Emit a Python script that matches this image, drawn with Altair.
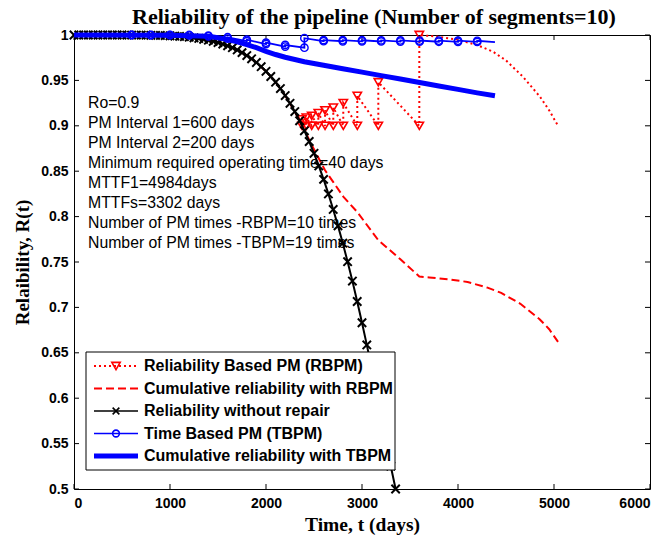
import altair as alt
import pandas as pd

# ---------------- data ----------------
# Reliability without repair (black, x markers)
black_t = [0, 50, 100, 150, 200, 250, 300, 350, 400, 450, 500, 550, 600, 650, 700, 750,
           800, 850, 900, 950, 1000, 1050, 1100, 1150, 1200, 1250, 1300, 1350, 1400, 1450,
           1500, 1550, 1600, 1650, 1700, 1750, 1800, 1850, 1900, 1950, 2000, 2050, 2100,
           2150, 2200, 2250, 2300, 2350, 2400, 2450, 2500, 2550, 2600, 2650, 2700, 2750,
           2800, 2850, 2900, 2950, 3000, 3050, 3100, 3150, 3200, 3250, 3300, 3350]
black_r = [1.0, 1.0, 1.0, 1.0, 1.0, 1.0, 1.0, 1.0, 1.0, 1.0, 1.0, 0.9999, 0.9999, 0.9999,
           0.9999, 0.9998, 0.9997, 0.9996, 0.9995, 0.9993, 0.9991, 0.9988, 0.9985, 0.9981,
           0.9976, 0.9969, 0.9962, 0.9953, 0.9943, 0.9931, 0.9917, 0.9900, 0.9881, 0.9860,
           0.9835, 0.9806, 0.9774, 0.9738, 0.9697, 0.9651, 0.9600, 0.9543, 0.9480, 0.9410,
           0.9333, 0.9248, 0.9157, 0.9055, 0.8945, 0.8827, 0.8697, 0.8558, 0.8410, 0.8250,
           0.8079, 0.7898, 0.7707, 0.7503, 0.7290, 0.7065, 0.6831, 0.6587, 0.6335, 0.6074,
           0.5804, 0.5531, 0.5251, 0.5000]

# Reliability Based PM (red dotted, triangles): PM times, value before / after PM
rbpm_t = [2375, 2420, 2476, 2545, 2615, 2701, 2805, 2951, 3170, 3597]
rbpm_before = [0.900, 0.900, 0.900, 0.900, 0.900, 0.900, 0.900, 0.900, 0.900, 0.900]
rbpm_after = [0.907, 0.909, 0.911, 0.914, 0.917, 0.920, 0.925, 0.933, 0.948, 1.000]
rbpm_tail_t = [3700, 3800, 3990, 4198, 4365, 4500, 4677, 4854, 4950, 5042]
rbpm_tail_r = [0.999, 0.998, 0.995, 0.989, 0.9816, 0.972, 0.954, 0.932, 0.917, 0.900]

# Cumulative reliability with RBPM (red dashed)
cum_rbpm_t = [0, 100, 200, 300, 400, 500, 600, 700, 800, 900, 1000, 1100, 1200, 1300,
              1400, 1500, 1600, 1700, 1800, 1900, 2000, 2100, 2200, 2300, 2375, 2420,
              2476, 2545, 2615, 2701, 2805, 2951, 3170, 3400, 3597, 3700, 3900, 4100,
              4300, 4450, 4650, 4850, 4950, 5042]
cum_rbpm_r = [1.0, 1.0, 1.0, 1.0, 1.0, 1.0, 0.9999, 0.9999, 0.9997, 0.9995, 0.9991,
              0.9985, 0.9976, 0.9962, 0.9943, 0.9917, 0.9881, 0.9835, 0.9774, 0.9697,
              0.9600, 0.9480, 0.9333, 0.9157, 0.900, 0.891, 0.879, 0.865, 0.851, 0.838,
              0.822, 0.805, 0.774, 0.753, 0.734, 0.733, 0.731, 0.728, 0.722, 0.716,
              0.704, 0.687, 0.676, 0.662]

# Time Based PM (blue, circles): PM times, value before / after PM
tbpm_t = [600, 800, 1000, 1200, 1400, 1600, 1800, 2000, 2200, 2400, 2600, 2800, 3000,
          3200, 3400, 3600, 3800, 4000, 4200]
tbpm_before = [1.0, 0.9999, 0.9998, 0.9995, 0.9985, 0.9960, 0.9932, 0.9900, 0.9872,
               0.9860, 0.9932, 0.9931, 0.9930, 0.9929, 0.9928, 0.9927, 0.9926, 0.9925,
               0.9924]
tbpm_after = [1.0, 1.0, 1.0, 1.0, 0.9993, 0.9975, 0.9948, 0.9915, 0.9890, 0.9965,
              0.9944, 0.9943, 0.9942, 0.9941, 0.9940, 0.9939, 0.9938, 0.9937, 0.9936]
tbpm_start = (0, 1.0)
tbpm_end = (4385, 0.9922)

# Cumulative reliability with TBPM (thick blue)
cum_tbpm_t = [0, 1000, 1200, 1400, 1500, 1600, 1700, 1800, 1900, 2000, 2100, 2200, 2300,
              2400, 2600, 2800, 3000, 3200, 3400, 3600, 3800, 4000, 4200, 4385]
cum_tbpm_r = [1.0, 0.9998, 0.9993, 0.9985, 0.997, 0.995, 0.9925, 0.9895, 0.986, 0.982,
              0.9785, 0.9755, 0.973, 0.9705, 0.9667, 0.9629, 0.9591, 0.9553, 0.9515,
              0.9477, 0.9439, 0.9401, 0.9363, 0.9330]

x_ticks = [0, 1000, 2000, 3000, 4000, 5000, 6000]
y_ticks = [0.5, 0.55, 0.6, 0.65, 0.7, 0.75, 0.8, 0.85, 0.9, 0.95, 1.0]

title_text = "Reliability of the pipeline (Number of segments=10)"
x_title = "Time, t (days)"
y_title = "Relaibility, R(t)"

notes = ["Ro=0.9", "PM Interval 1=600 days", "PM Interval 2=200 days",
         "Minimum required operating time=40 days", "MTTF1=4984days", "MTTFs=3302 days",
         "Number of PM times -RBPM=10 times", "Number of PM times -TBPM=19 times"]

legend_labels = ["Reliability Based PM (RBPM)", "Cumulative reliability with RBPM",
                 "Reliability without repair", "Time Based PM (TBPM)",
                 "Cumulative reliability with TBPM"]

# ---------------- build tables ----------------
rb_rows = []
for t, b, a in zip(rbpm_t, rbpm_before, rbpm_after):
    rb_rows += [(t, b), (t, a)]
rb_line = pd.DataFrame(rb_rows + list(zip(rbpm_tail_t, rbpm_tail_r)), columns=["t", "r"])
rb_line["i"] = range(len(rb_line))
rb_pts = pd.DataFrame(rb_rows, columns=["t", "r"])

tb_rows = []
for t, b, a in zip(tbpm_t, tbpm_before, tbpm_after):
    tb_rows += [(t, b), (t, a)]
tb_line = pd.DataFrame([tbpm_start] + tb_rows + [tbpm_end], columns=["t", "r"])
tb_line["i"] = range(len(tb_line))
tb_pts = pd.DataFrame(tb_rows, columns=["t", "r"])

black_df = pd.DataFrame({"t": black_t, "r": black_r})
crb_df = pd.DataFrame({"t": cum_rbpm_t, "r": cum_rbpm_r})
ctb_df = pd.DataFrame({"t": cum_tbpm_t, "r": cum_tbpm_r})

W, H = 576, 454
RED, BLUE, BLACK = "#ff0000", "#0000ff", "#000000"
XPATH = "M-1,-1L1,1M1,-1L-1,1"

xscale = alt.Scale(domain=[0, 6000], nice=False, zero=False)
yscale = alt.Scale(domain=[0.5, 1.0], nice=False, zero=False)
xaxis = alt.Axis(values=x_ticks, format="d", ticks=False, domain=False, grid=False,
                 labelPadding=7, titlePadding=5,
                 labelFont="Liberation Sans", labelFontWeight="bold", labelFontSize=14,
                 labelColor=BLACK, titleFont="Liberation Serif", titleFontWeight="bold",
                 titleFontSize=19.5, titleColor=BLACK)
yaxis = alt.Axis(values=y_ticks, format="~g", ticks=False, domain=False, grid=False,
                 labelPadding=6, titlePadding=8,
                 labelFont="Liberation Sans", labelFontWeight="bold", labelFontSize=14,
                 labelColor=BLACK, titleFont="Liberation Serif", titleFontWeight="bold",
                 titleFontSize=19, titleColor=BLACK)


def X(field="t"):
    return alt.X(f"{field}:Q", scale=xscale, axis=xaxis, title=x_title)


def Y(field="r"):
    return alt.Y(f"{field}:Q", scale=yscale, axis=yaxis, title=y_title)


layers = []

# inward ticks on all four sides
xt = pd.DataFrame({"t": x_ticks})
yt = pd.DataFrame({"r": y_ticks})
layers.append(alt.Chart(xt).mark_rule(color=BLACK, strokeWidth=1).encode(
    x=X(), y=alt.value(H), y2=alt.value(H - 5)))
layers.append(alt.Chart(xt).mark_rule(color=BLACK, strokeWidth=1).encode(
    x=X(), y=alt.value(0), y2=alt.value(5)))
layers.append(alt.Chart(yt).mark_rule(color=BLACK, strokeWidth=1).encode(
    y=Y(), x=alt.value(0), x2=alt.value(5)))
layers.append(alt.Chart(yt).mark_rule(color=BLACK, strokeWidth=1).encode(
    y=Y(), x=alt.value(W - 5), x2=alt.value(W)))

# RBPM dotted + triangles
layers.append(alt.Chart(rb_line).mark_line(color=RED, strokeWidth=2, strokeDash=[2, 3]).encode(
    x=X(), y=Y(), order="i:Q"))
layers.append(alt.Chart(rb_pts).mark_point(shape="triangle-down", filled=False, color=RED,
                                           size=70, strokeWidth=1.6, opacity=1).encode(x=X(), y=Y()))
# cumulative RBPM dashed
layers.append(alt.Chart(crb_df).mark_line(color=RED, strokeWidth=2, strokeDash=[8, 4]).encode(
    x=X(), y=Y()))
# no repair
layers.append(alt.Chart(black_df).mark_line(color=BLACK, strokeWidth=2).encode(x=X(), y=Y()))
layers.append(alt.Chart(black_df).mark_point(shape=XPATH, filled=False, color=BLACK, size=70,
                                             strokeWidth=2, opacity=1).encode(x=X(), y=Y()))
# TBPM
layers.append(alt.Chart(tb_line).mark_line(color=BLUE, strokeWidth=1.8).encode(
    x=X(), y=Y(), order="i:Q"))
layers.append(alt.Chart(tb_pts).mark_point(shape="circle", filled=False, color=BLUE, size=55,
                                           strokeWidth=1.4, opacity=1).encode(x=X(), y=Y()))
# cumulative TBPM thick
layers.append(alt.Chart(ctb_df).mark_line(color=BLUE, strokeWidth=5).encode(x=X(), y=Y()))

# annotation text
one = pd.DataFrame({"k": [0]})
for j, s in enumerate(notes):
    layers.append(alt.Chart(one).mark_text(text=s, align="left", baseline="middle",
                                           font="Liberation Sans", fontSize=15.8, color=BLACK).encode(
        x=alt.value(14), y=alt.value(68 + 20 * j)))

# legend box
layers.append(alt.Chart(one).mark_rect(fill="white", stroke=BLACK, strokeWidth=1).encode(
    x=alt.value(12), x2=alt.value(321), y=alt.value(317), y2=alt.value(435)))
leg_styles = [
    dict(color=RED, width=2, dash=[2, 3], shape="triangle-down", size=70),
    dict(color=RED, width=2, dash=[8, 4], shape=None, size=0),
    dict(color=BLACK, width=1.5, dash=None, shape=XPATH, size=45),
    dict(color=BLUE, width=1.5, dash=None, shape="circle", size=45),
    dict(color=BLUE, width=5, dash=None, shape=None, size=0),
]
for j, (lab, st) in enumerate(zip(legend_labels, leg_styles)):
    yy = 331 + 22.5 * j
    kw = dict(color=st["color"], strokeWidth=st["width"])
    if st["dash"]:
        kw["strokeDash"] = st["dash"]
    layers.append(alt.Chart(one).mark_rule(**kw).encode(
        x=alt.value(20), x2=alt.value(64), y=alt.value(yy)))
    if st["shape"]:
        layers.append(alt.Chart(one).mark_point(shape=st["shape"], filled=False, color=st["color"],
                                                size=st["size"], strokeWidth=1.6, opacity=1).encode(
            x=alt.value(42), y=alt.value(yy)))
    layers.append(alt.Chart(one).mark_text(text=lab, align="left", baseline="middle",
                                           font="Liberation Sans", fontSize=16, fontWeight="bold",
                                           color=BLACK).encode(
        x=alt.value(70), y=alt.value(yy)))

chart = alt.layer(*layers).properties(
    width=W, height=H,
    title=alt.TitleParams(title_text, font="Liberation Serif", fontSize=22, fontWeight="bold",
                          color=BLACK, anchor="middle", offset=9, dx=12, dy=13),
    autosize=alt.AutoSizeParams(type="none"),
    padding={"left": 74, "top": 35, "right": 16, "bottom": 50},
    background="white",
).configure_view(stroke=BLACK, strokeWidth=1)

chart.save("out.html", embed_options={"renderer": "svg", "actions": False})
